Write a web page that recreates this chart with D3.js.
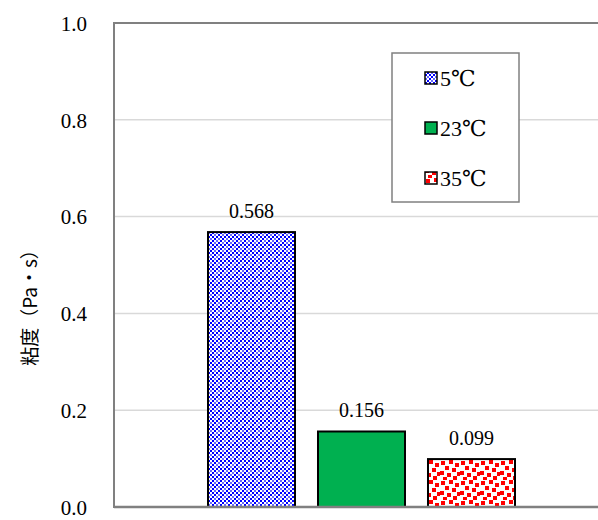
<!DOCTYPE html>
<html><head><meta charset="utf-8">
<script src="https://cdn.jsdelivr.net/npm/d3@7"></script>
<style>body{margin:0;background:#fff}svg{display:block}
.serif{font-family:"Liberation Serif","DejaVu Serif",serif !important;}
</style>
</head><body>
<svg id="c" width="598" height="520"></svg>
<script>
const series = ["5℃", "23℃", "35℃"];
const values = [0.568, 0.156, 0.099];
const valueLabels = ["0.568", "0.156", "0.099"];
const yTicks = [0, 0.2, 0.4, 0.6, 0.8, 1.0];
const yLabel = "粘度（Pa・s）";

const svg = d3.select("#c");
const L = 114, T = 23, R = 608, B = 507;

const defs = svg.append("defs");
// blue diamond pattern
const pb = defs.append("pattern").attr("id","pBlue").attr("patternUnits","userSpaceOnUse")
  .attr("width",8).attr("height",8);
pb.append("rect").attr("width",8).attr("height",8).attr("fill","#fff");
[[0,0],[4,0],[2,2],[6,2],[0,4],[4,4],[2,6],[6,6]].forEach(([x,y],i)=>{
  pb.append("rect").attr("x",x).attr("y",y).attr("width",2).attr("height",2)
    .attr("fill", (i%3===0)?"#6666ff":"#0000ff");
});
// red scattered squares pattern
const pr = defs.append("pattern").attr("id","pRed").attr("patternUnits","userSpaceOnUse")
  .attr("width",20).attr("height",20);
pr.append("rect").attr("width",20).attr("height",20).attr("fill","#fff");
[[1,1],[9,0],[15,3],[5,6],[12,8],[0,11],[17,12],[7,13],[13,16],[3,17]].forEach(([x,y])=>{
  pr.append("rect").attr("x",x).attr("y",y).attr("width",4).attr("height",4).attr("fill","#ff0000");
});

const fills = ["url(#pBlue)", "#00b050", "url(#pRed)"];

const y = d3.scaleLinear().domain([0,1]).range([B,T]);
const x = d3.scaleBand().domain(series).range([208, 515]).paddingInner(0.209).paddingOuter(0);

// gridlines
svg.append("g").selectAll("line").data(yTicks.filter(d=>d>0 && d<1)).join("line")
  .attr("x1",L).attr("x2",R).attr("y1",d=>y(d)).attr("y2",d=>y(d))
  .attr("stroke","#d9d9d9").attr("stroke-width",1.5);

// bars
svg.append("g").selectAll("rect").data(values).join("rect")
  .attr("x",(d,i)=>x(series[i])).attr("width",x.bandwidth())
  .attr("y",d=>y(d)).attr("height",d=>B-y(d))
  .attr("fill",(d,i)=>fills[i]).attr("stroke","#000").attr("stroke-width",2);

// value labels
svg.append("g").selectAll("text").data(values).join("text").attr("class","serif")
  .attr("x",(d,i)=>x(series[i])+x.bandwidth()/2).attr("y",d=>y(d)-14)
  .attr("text-anchor","middle").attr("font-size",20)
  .attr("fill","#000").text((d,i)=>valueLabels[i]);

// frame
svg.append("line").attr("x1",L).attr("x2",R).attr("y1",T).attr("y2",T).attr("stroke","#808080").attr("stroke-width",2);
svg.append("line").attr("x1",L).attr("x2",L).attr("y1",T-1).attr("y2",B+1).attr("stroke","#808080").attr("stroke-width",2);
svg.append("line").attr("x1",L).attr("x2",R).attr("y1",B).attr("y2",B).attr("stroke","#808080").attr("stroke-width",2.5);

// y axis labels
const ya = svg.append("g").attr("transform",`translate(${L},0)`)
  .call(d3.axisLeft(y).tickValues(yTicks).tickFormat(d3.format(".1f")).tickSize(0).tickPadding(27));
ya.attr("font-family",null);
ya.select(".domain").remove();
ya.selectAll("text").attr("class","serif").attr("font-size",21).attr("fill","#000").attr("dy","0.35em");

// y label
svg.append("text").attr("transform","translate(37,303) rotate(-90)")
  .attr("text-anchor","middle").attr("font-family","Noto Sans CJK JP, sans-serif")
  .attr("font-size",19).attr("fill","#000").text(yLabel);

// legend
const lg = svg.append("g");
lg.append("rect").attr("x",392).attr("y",53).attr("width",127).attr("height",149)
  .attr("fill","#fff").attr("stroke","#808080").attr("stroke-width",1.5);
const items = lg.selectAll("g").data(series).join("g")
  .attr("transform",(d,i)=>`translate(425,${78+i*50})`);
items.append("rect").attr("x",0).attr("y",-6).attr("width",12).attr("height",12)
  .attr("fill",(d,i)=>fills[i]).attr("stroke","#000").attr("stroke-width",1.5);
items.append("text").attr("class","serif").attr("x",15).attr("y",8).attr("font-size",22)
  .attr("fill","#000").text(d=>d);
</script>
</body></html>
